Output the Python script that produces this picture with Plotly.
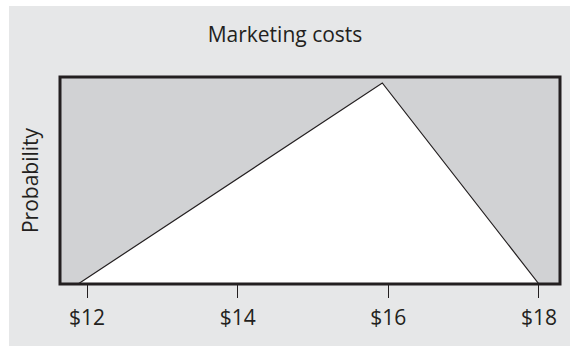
import plotly.graph_objects as go

# Triangular distribution of marketing costs (in $)
cost_points = [11.88, 15.92, 18.0]
density = [0.0, 0.327, 0.0]
tick_values = [12, 14, 16, 18]
tick_labels = ["$12", "$14", "$16", "$18"]

ink = "#231f20"
outer_bg = "#e6e7e8"
plot_bg = "#d1d2d4"
font_family = "Open Sans"
fsize = 21

fig = go.Figure()
fig.add_trace(go.Scatter(
    x=cost_points + [cost_points[0]],
    y=density + [density[0]],
    mode="lines",
    fill="toself",
    fillcolor="white",
    line=dict(color=ink, width=1.2),
    hoverinfo="skip",
    showlegend=False,
))

W, H = 570, 348
ml, mr, mt, mb = 60, 10, 77, 64
pw, ph = W - ml - mr, H - mt - mb

def px_x(p):
    return (p - ml) / pw

def px_y(p):
    return (H - mb - p) / ph

fig.update_layout(
    width=W, height=H,
    margin=dict(l=ml, r=mr, t=mt, b=mb),
    paper_bgcolor="white",
    plot_bgcolor=plot_bg,
    font=dict(family=font_family, color=ink),
    title=dict(text="Marketing costs", x=0.5, xanchor="center",
               y=1 - 35 / H, yanchor="middle",
               font=dict(size=fsize, color=ink, family=font_family)),
    xaxis=dict(range=[11.64, 18.28], tickvals=tick_values, ticktext=tick_labels,
               ticks="outside", ticklen=13, tickwidth=1, tickcolor=ink,
               ticklabelstandoff=2,
               showgrid=False, zeroline=False, showline=False,
               tickfont=dict(size=fsize, color=ink, family=font_family)),
    yaxis=dict(range=[0, 0.327 / 0.971], showticklabels=False, ticks="",
               showgrid=False, zeroline=False, showline=False,
               title=dict(text="Probability", standoff=14,
                          font=dict(size=fsize, color=ink, family=font_family))),
    shapes=[
        dict(type="rect", xref="paper", yref="paper",
             x0=px_x(9), x1=px_x(W), y0=px_y(H - 2), y1=px_y(6),
             fillcolor=outer_bg, line=dict(width=0), layer="below"),
        dict(type="rect", xref="paper", yref="paper",
             x0=0, x1=1, y0=0, y1=1,
             fillcolor=plot_bg, line=dict(width=0), layer="below"),
        dict(type="rect", xref="paper", yref="paper",
             x0=0, x1=1, y0=0, y1=1,
             line=dict(color=ink, width=3), layer="above"),
    ],
)

fig.write_html("out.html")
